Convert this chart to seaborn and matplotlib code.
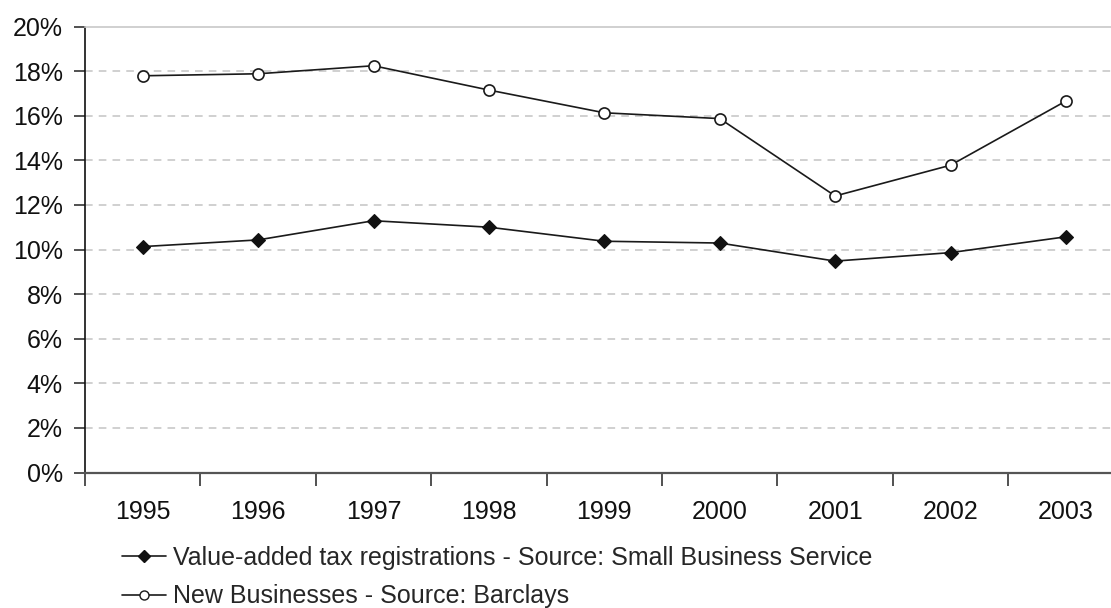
import matplotlib
matplotlib.use("Agg")
import matplotlib.pyplot as plt
from matplotlib.lines import Line2D
from matplotlib.ticker import FixedLocator, FuncFormatter
import numpy as np
import pandas as pd
import seaborn as sns

years = ["1995", "1996", "1997", "1998", "1999", "2000", "2001", "2002", "2003"]
vat_registrations = [10.13, 10.43, 11.29, 11.00, 10.37, 10.29, 9.48, 9.86, 10.57]
new_businesses = [17.79, 17.88, 18.24, 17.15, 16.13, 15.87, 12.40, 13.78, 16.66]
vat_label = "Value-added tax registrations - Source: Small Business Service"
barclays_label = "New Businesses - Source: Barclays"
y_ticks = [0, 2, 4, 6, 8, 10, 12, 14, 16, 18, 20]

sns.set_theme(style="white")
plt.rcParams["font.family"] = ["Liberation Sans", "DejaVu Sans"]

pos = np.arange(len(years))
df_vat = pd.DataFrame({"pos": pos, "value": vat_registrations})
df_bar = pd.DataFrame({"pos": pos, "value": new_businesses})

fig = plt.figure(figsize=(11.11, 6.08), dpi=100)
ax = fig.add_axes([85 / 1111, 135.5 / 608, 1038.7 / 1111, 446 / 608])

line_col = "#1a1a1a"
sns.lineplot(data=df_vat, x="pos", y="value", ax=ax, color=line_col, linewidth=1.2,
             marker="D", markersize=7.5, markerfacecolor="#111111",
             markeredgecolor="#111111", markeredgewidth=0.8)
sns.lineplot(data=df_bar, x="pos", y="value", ax=ax, color=line_col, linewidth=1.2,
             marker="o", markersize=8, markerfacecolor="white",
             markeredgecolor=line_col, markeredgewidth=1.2)

ax.set_xlim(-0.5, len(years) - 0.5)
ax.set_ylim(0, 20)

# Category boundaries carry the tick marks; labels sit at centres
ax.xaxis.set_major_locator(FixedLocator(np.arange(-0.5, len(years), 1.0)))
ax.xaxis.set_minor_locator(FixedLocator(pos))
ax.set_xticklabels([""] * (len(years) + 1))
ax.set_xticks(pos, labels=years, minor=True)
ax.tick_params(axis="x", which="major", direction="out", length=9, width=1.1,
               color="#222222", bottom=True)
ax.tick_params(axis="x", which="minor", length=0, labelsize=18, pad=20,
               labelcolor="#111111")

ax.set_yticks(y_ticks)
ax.yaxis.set_major_formatter(FuncFormatter(lambda v, _: f"{v:.0f}%"))
ax.tick_params(axis="y", direction="out", length=8, width=1.1, color="#222222",
               left=True, labelsize=18, pad=8, labelcolor="#111111")

for v in y_ticks[1:-1]:
    ax.axhline(v, color="#c4c4c4", linewidth=1.1, linestyle=(0, (5, 4)), zorder=0)

ax.spines["left"].set_color("#111111")
ax.spines["left"].set_linewidth(1.2)
ax.spines["bottom"].set_color("#555555")
ax.spines["bottom"].set_linewidth(1.6)
ax.spines["top"].set_color("#c8c8c8")
ax.spines["top"].set_linewidth(1.2)
ax.spines["right"].set_visible(False)
ax.set_xlabel("")
ax.set_ylabel("")

handles = [
    Line2D([], [], color=line_col, linewidth=1.2, marker="D", markersize=6.5,
           markerfacecolor="#111111", markeredgecolor="#111111"),
    Line2D([], [], color=line_col, linewidth=1.2, marker="o", markersize=6.5,
           markerfacecolor="white", markeredgecolor=line_col),
]
if ax.get_legend() is not None:
    ax.get_legend().remove()
fig.legend(handles, [vat_label, barclays_label], loc="upper left",
           bbox_to_anchor=(122 / 1111, 1 - 546 / 608), frameon=False,
           fontsize=18, handlelength=1.76, handletextpad=0.28, labelspacing=0.58,
           borderaxespad=0, borderpad=0)

fig.savefig("out.png", dpi=100)
